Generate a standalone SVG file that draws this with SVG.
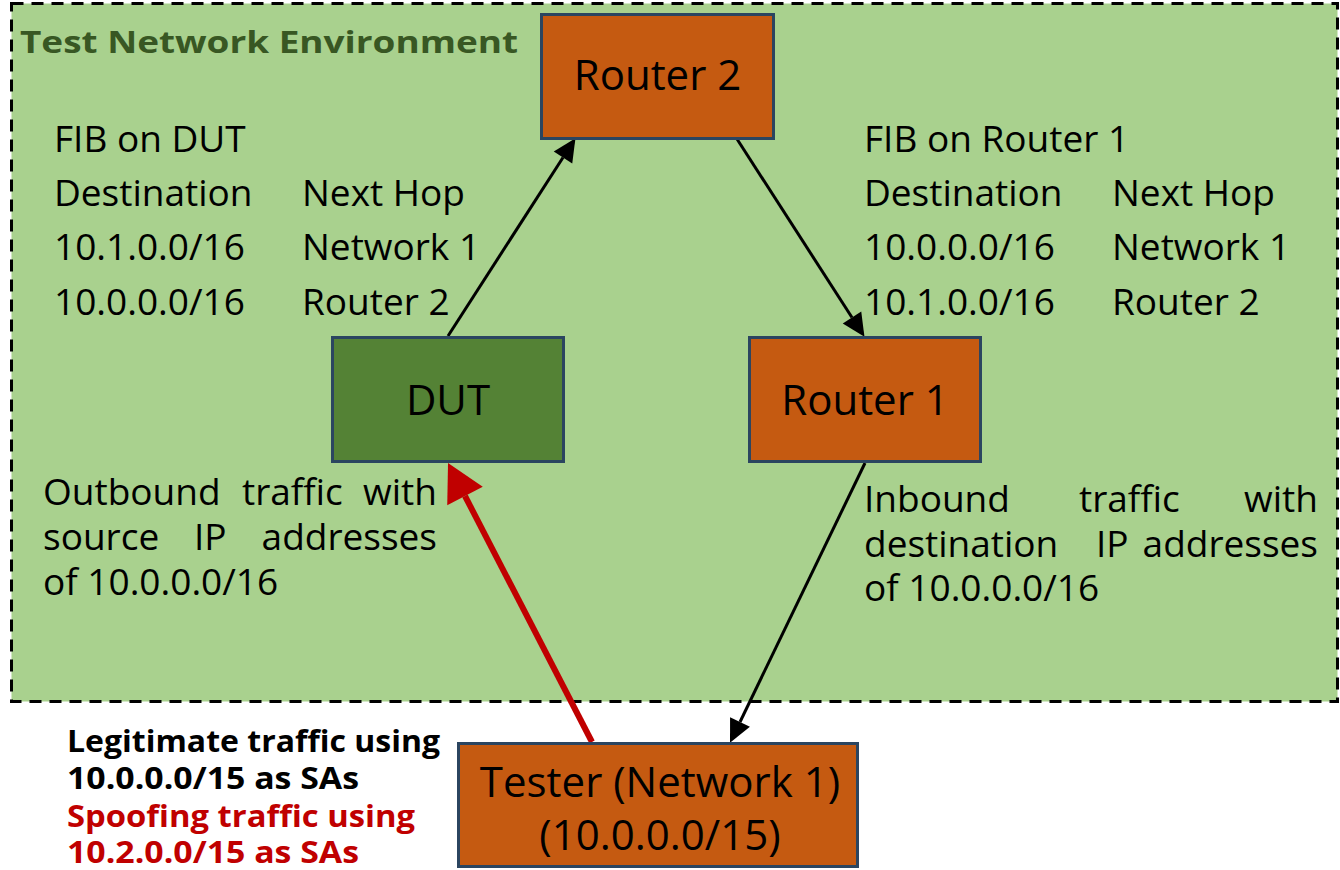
<svg xmlns="http://www.w3.org/2000/svg" width="1340" height="870" viewBox="0 0 1340 870">
  <style>
    .t { font-family: "Open Sans", "Noto Sans", "Liberation Sans", sans-serif; font-size: 37px; fill: #000; }
    .n { font-family: "Open Sans", "Noto Sans", "Liberation Sans", sans-serif; font-size: 42px; fill: #000; text-anchor: middle; }
    .b { font-family: "Open Sans", "Noto Sans", "Liberation Sans", sans-serif; font-size: 31px; font-weight: bold; }
    .box { stroke: #2B4560; stroke-width: 3; }
    .orange { fill: #C55A11; }
    .green { fill: #548235; }
    .conn { stroke: #000; stroke-width: 3; fill: none; }
    .red { stroke: #C00000; stroke-width: 6; fill: none; }
  </style>
  <defs>
    <marker id="ah" markerUnits="userSpaceOnUse" markerWidth="24" markerHeight="22" refX="0" refY="11" orient="auto" overflow="visible">
      <path d="M0,0 L23,11 L0,22 z" fill="#000"/>
    </marker>
    <marker id="ahr" markerUnits="userSpaceOnUse" markerWidth="38" markerHeight="40" refX="0" refY="20" orient="auto" overflow="visible">
      <path d="M0,0 L37,20 L0,40 z" fill="#C00000"/>
    </marker>
  </defs>

  <rect width="1340" height="870" fill="#FFFFFF"/>

  <g id="environment">
    <rect x="11.5" y="3.5" width="1326" height="698" fill="#A9D18E" stroke="#000" stroke-width="3" stroke-dasharray="12 8"/>
    <text x="20" y="53" class="b" font-size="35" fill="#385723" textLength="498" lengthAdjust="spacingAndGlyphs">Test Network Environment</text>
  </g>

  <g id="fib-dut">
    <text x="54" y="152" class="t">FIB on DUT</text>
    <text x="54" y="206" class="t">Destination</text>
    <text x="302" y="206" class="t">Next Hop</text>
    <text x="54" y="260" class="t">10.1.0.0/16</text>
    <text x="302" y="260" class="t">Network 1</text>
    <text x="54" y="315" class="t">10.0.0.0/16</text>
    <text x="302" y="315" class="t">Router 2</text>
  </g>

  <g id="fib-router1">
    <text x="864" y="152" class="t">FIB on Router 1</text>
    <text x="864" y="206" class="t">Destination</text>
    <text x="1112" y="206" class="t">Next Hop</text>
    <text x="864" y="260" class="t">10.0.0.0/16</text>
    <text x="1112" y="260" class="t">Network 1</text>
    <text x="864" y="315" class="t">10.1.0.0/16</text>
    <text x="1112" y="315" class="t">Router 2</text>
  </g>

  <g id="outbound-label">
    <text x="43" y="505" class="t">Outbound</text>
    <text x="242" y="505" class="t">traffic</text>
    <text x="437" y="505" class="t" text-anchor="end">with</text>
    <text x="43" y="550" class="t">source</text>
    <text x="194" y="550" class="t">IP</text>
    <text x="437" y="550" class="t" text-anchor="end">addresses</text>
    <text x="43" y="595" class="t">of 10.0.0.0/16</text>
  </g>

  <g id="inbound-label">
    <text x="864" y="512" class="t">Inbound</text>
    <text x="1079" y="512" class="t">traffic</text>
    <text x="1318" y="512" class="t" text-anchor="end">with</text>
    <text x="864" y="557" class="t">destination</text>
    <text x="1096" y="557" class="t">IP</text>
    <text x="1318" y="557" class="t" text-anchor="end">addresses</text>
    <text x="864" y="601" class="t">of 10.0.0.0/16</text>
  </g>

  <g id="traffic-label">
    <text x="67" y="752" class="b" fill="#000" textLength="373" lengthAdjust="spacingAndGlyphs">Legitimate traffic using</text>
    <text x="67" y="789" class="b" fill="#000" textLength="292" lengthAdjust="spacingAndGlyphs">10.0.0.0/15 as SAs</text>
    <text x="67" y="827" class="b" fill="#C00000" textLength="348" lengthAdjust="spacingAndGlyphs">Spoofing traffic using</text>
    <text x="67" y="863" class="b" fill="#C00000" textLength="292" lengthAdjust="spacingAndGlyphs">10.2.0.0/15 as SAs</text>
  </g>

  <g id="connectors">
    <line x1="448" y1="336" x2="563" y2="157.5" class="conn" marker-end="url(#ah)"/>
    <line x1="737" y1="139" x2="852" y2="317.5" class="conn" marker-end="url(#ah)"/>
    <line x1="865" y1="463" x2="740" y2="722" class="conn" marker-end="url(#ah)"/>
    <line x1="592" y1="742" x2="465" y2="496" class="red" marker-end="url(#ahr)"/>
  </g>

  <g id="router2">
    <rect x="541.5" y="14.5" width="232" height="124" class="box orange"/>
    <text x="657.5" y="90" class="n">Router 2</text>
  </g>

  <g id="dut">
    <rect x="332.5" y="337.5" width="231" height="124" class="box green"/>
    <text x="448" y="415" class="n">DUT</text>
  </g>

  <g id="router1">
    <rect x="749.5" y="337.5" width="231" height="124" class="box orange"/>
    <text x="865" y="415" class="n">Router 1</text>
  </g>

  <g id="tester">
    <rect x="458.5" y="743.5" width="399" height="123" class="box orange"/>
    <text x="660" y="797" class="n">Tester (Network 1)</text>
    <text x="660" y="850" class="n">(10.0.0.0/15)</text>
  </g>
</svg>
